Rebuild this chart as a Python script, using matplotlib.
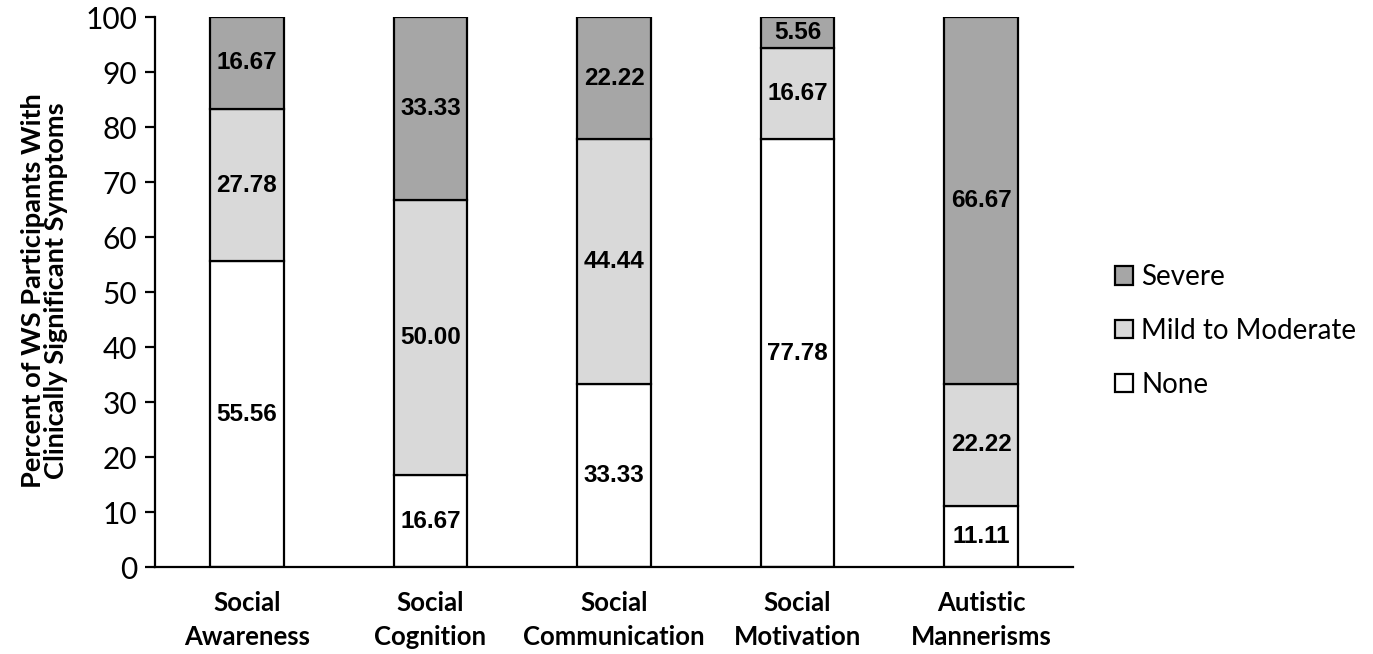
import matplotlib.pyplot as plt
import numpy as np

categories = ["Social\nAwareness", "Social\nCognition", "Social\nCommunication",
              "Social\nMotivation", "Autistic\nMannerisms"]
none = [55.56, 16.67, 33.33, 77.78, 11.11]
mild = [27.78, 50.00, 44.44, 16.67, 22.22]
severe = [16.67, 33.33, 22.22, 5.56, 66.67]

series = [("None", none, "#ffffff"),
          ("Mild to Moderate", mild, "#d9d9d9"),
          ("Severe", severe, "#a6a6a6")]

plt.rcParams["font.family"] = ["Lato", "DejaVu Sans"]

fig = plt.figure(figsize=(13.73, 6.54), dpi=100)
ax = fig.add_axes([0.1129, 0.133, 0.6686, 0.841])

x = np.arange(len(categories))
bottom = np.zeros(len(categories))
handles = []
for name, vals, color in series:
    bars = ax.bar(x, vals, 0.4, bottom=bottom, color=color, edgecolor="black",
                  linewidth=1.6, label=name, zorder=2)
    handles.append(bars)
    for xi, b, v in zip(x, bottom, vals):
        ax.text(xi, b + v / 2, f"{v:.2f}", ha="center", va="center",
                fontsize=17.5, fontweight="bold", family="Liberation Sans", zorder=3)
    bottom += np.array(vals)

ax.set_xlim(-0.5, 4.5)
ax.set_ylim(0, 100)
ax.set_yticks(range(0, 101, 10))
ax.tick_params(axis="y", labelsize=21.5, length=7, width=1.6, direction="out", pad=6)
ax.set_xticks(x)
ax.set_xticklabels(categories, fontsize=18.5, fontweight="bold", linespacing=1.5)
ax.tick_params(axis="x", length=0, pad=17)

for side in ("top", "right"):
    ax.spines[side].set_visible(False)
for side in ("left", "bottom"):
    ax.spines[side].set_linewidth(1.6)

fig.text(45 / 1373, 0.556,
         "Percent of WS Participants With\nClinically Significant Symptoms",
         rotation=90, ha="center", va="center", fontsize=19.6, fontweight="bold",
         linespacing=0.95)

fig.legend(handles[::-1], [s[0] for s in series][::-1], loc="center left",
           bbox_to_anchor=(0.812, 0.494), frameon=False, prop={"size": 20},
           borderpad=0, borderaxespad=0,
           handlelength=0.65, handleheight=0.65, handletextpad=0.3, labelspacing=1.0)

fig.savefig("out.png", dpi=100)
